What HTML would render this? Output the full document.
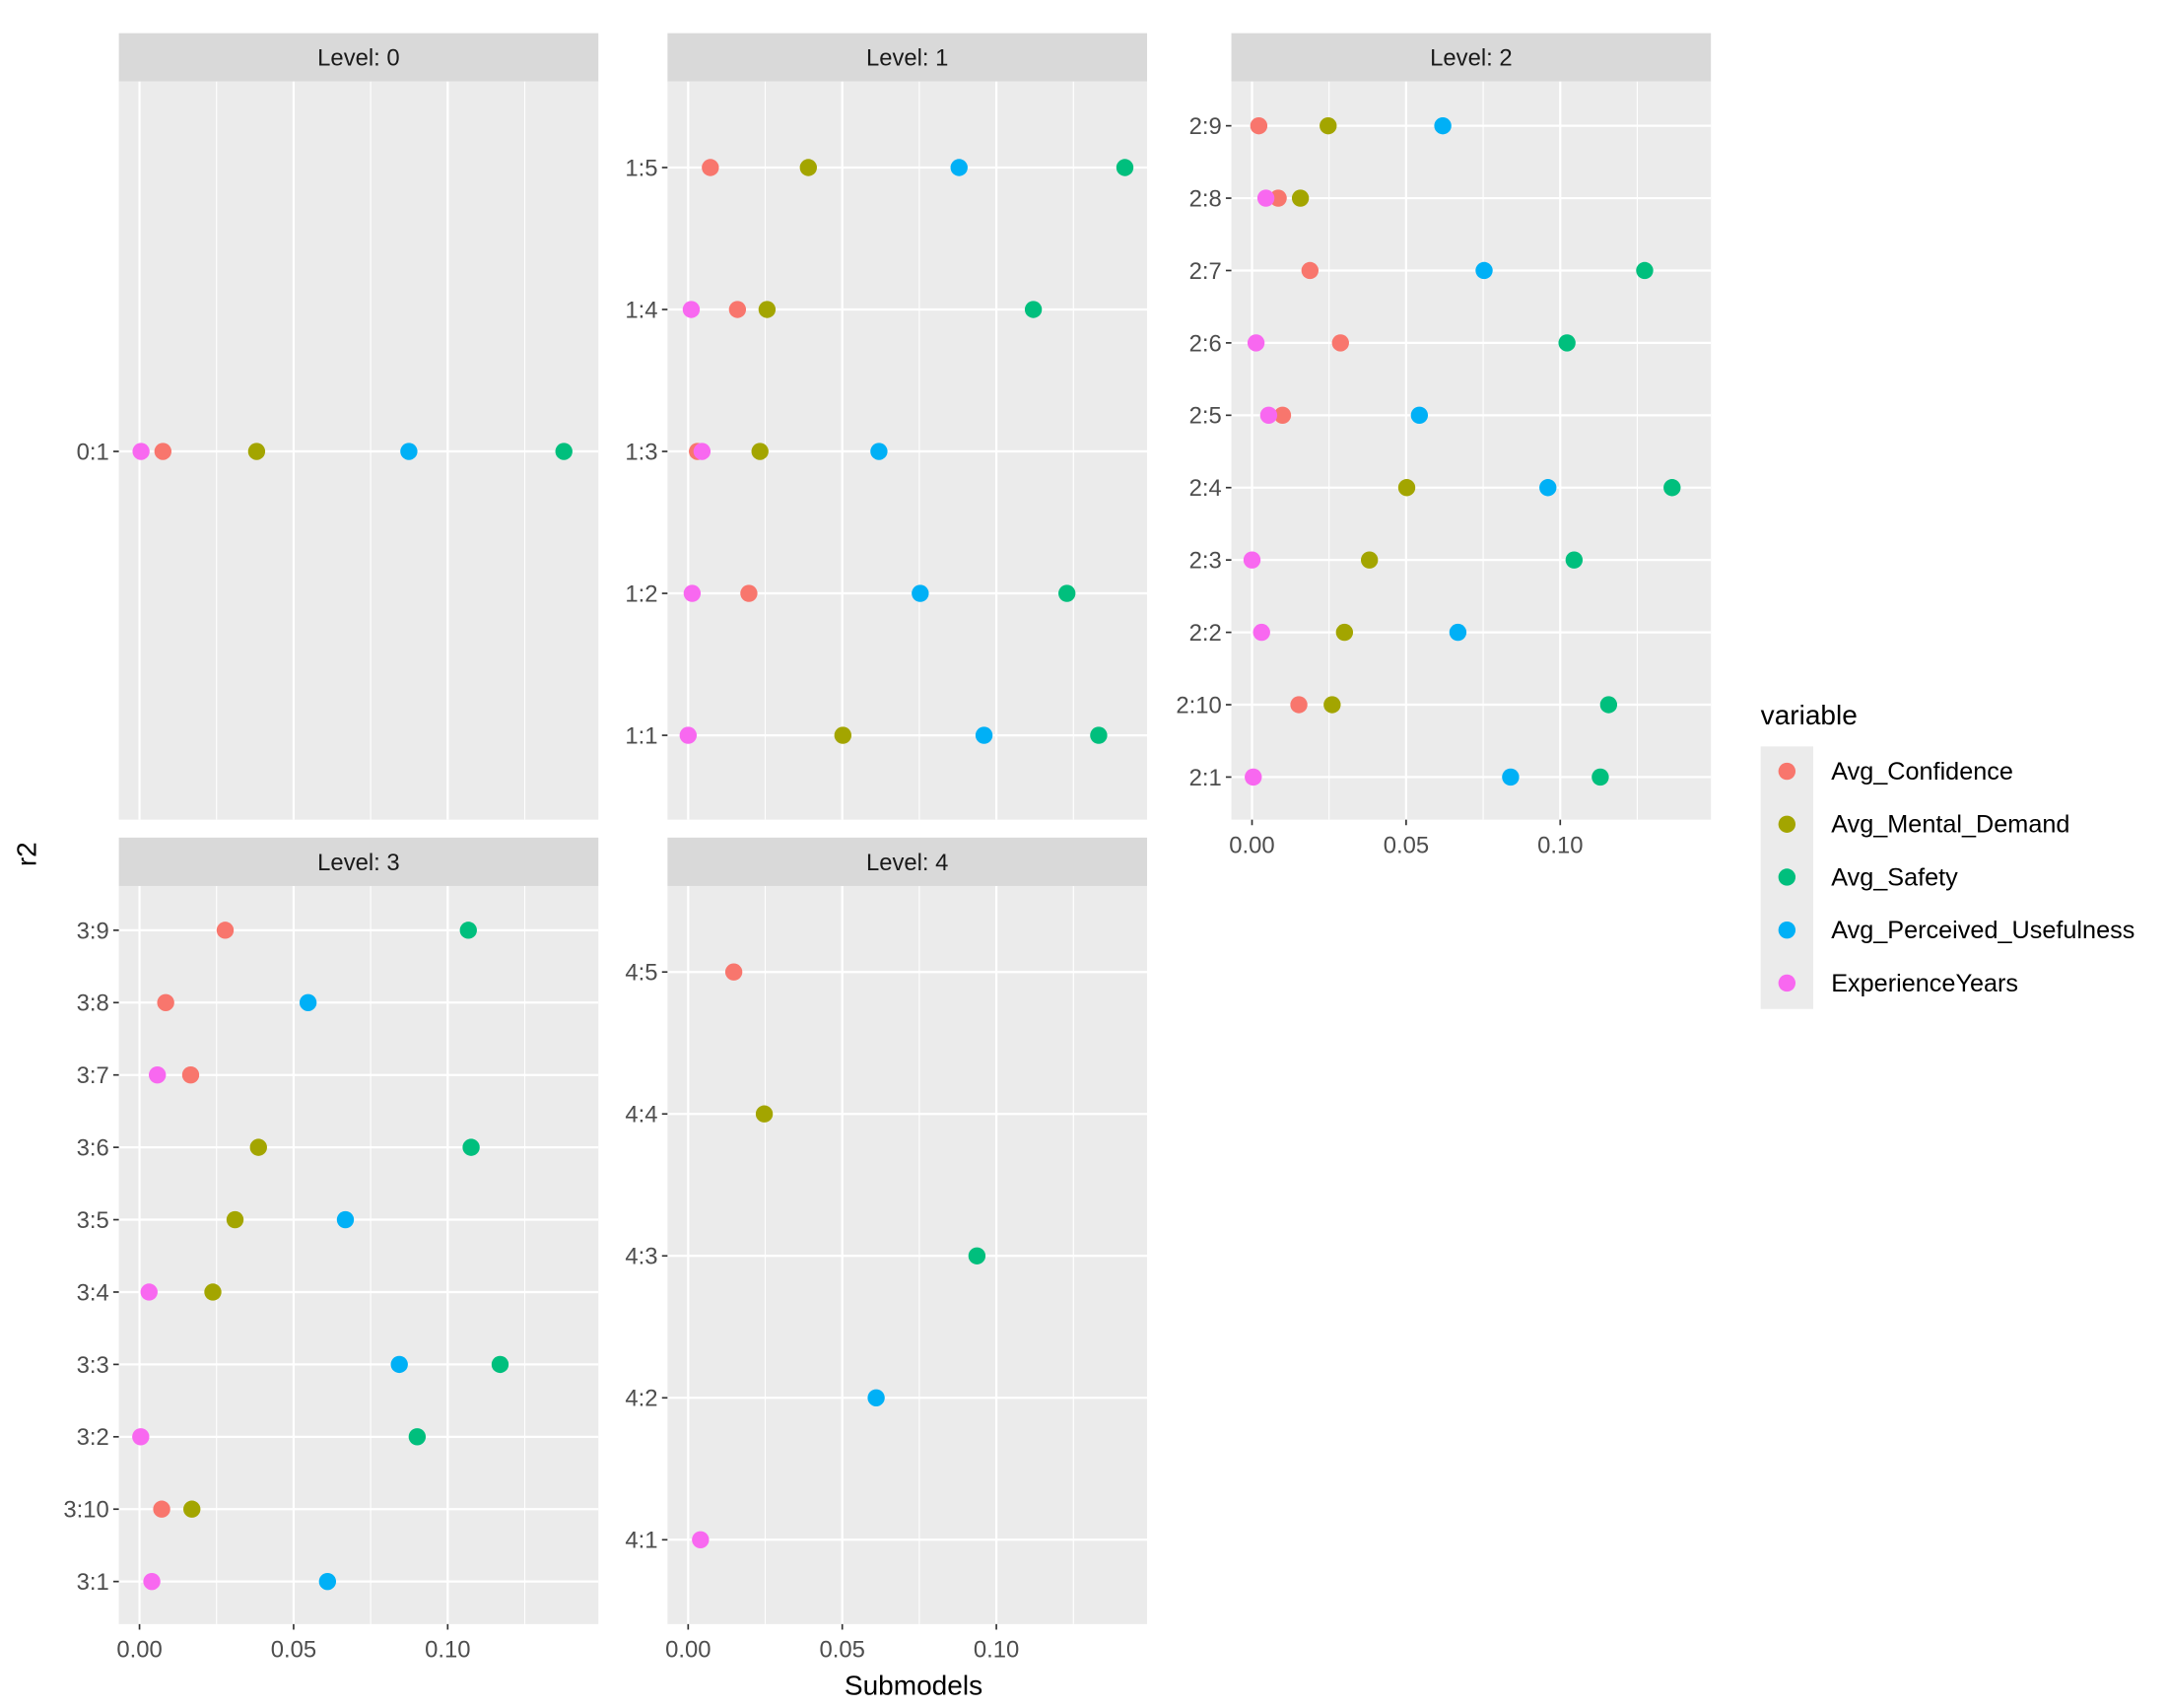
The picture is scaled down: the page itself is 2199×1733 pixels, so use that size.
<!DOCTYPE html>
<html><head><meta charset="utf-8"><style>
html,body{margin:0;padding:0;background:#fff;}
svg{display:block;font-family:"Liberation Sans",sans-serif;}
</style></head><body>
<svg id="chart" width="2199" height="1733" viewBox="0 0 1568 1235.7" preserveAspectRatio="none" xmlns="http://www.w3.org/2000/svg">
<text x="0" y="0" transform="translate(26,618) rotate(-90)" text-anchor="middle" font-size="20" fill="#000">r2</text>
<text x="661" y="1226" text-anchor="middle" font-size="20" fill="#000">Submodels</text>
<text x="1274" y="524" font-size="20" fill="#000">variable</text>
<rect x="1274" y="540" width="38" height="190" fill="#EBEBEB"/>
<g id="legend"></g>
<g id="panels"></g>
</svg>
<script>
const seriesNames = ["Avg_Confidence","Avg_Mental_Demand","Avg_Safety","Avg_Perceived_Usefulness","ExperienceYears"];
const seriesColors = ["#F8766D","#A3A500","#00BF7D","#00B0F6","#F868F0"];
const xTicks = [0, 0.05, 0.10];
const xTickLabels = ["0.00","0.05","0.10"];
const xMinor = [0.025, 0.075, 0.125];
const level0Cats = ["0:1"];
const level1Cats = ["1:1","1:2","1:3","1:4","1:5"];
const level2Cats = ["2:1","2:10","2:2","2:3","2:4","2:5","2:6","2:7","2:8","2:9"];
const level3Cats = ["3:1","3:10","3:2","3:3","3:4","3:5","3:6","3:7","3:8","3:9"];
const level4Cats = ["4:1","4:2","4:3","4:4","4:5"];
// each point: [category, seriesIndex, value]
const level0Points = [["0:1",4,0.0005],["0:1",0,0.0076],["0:1",1,0.038],["0:1",3,0.0874],["0:1",2,0.1377]];
const level1Points = [
 ["1:5",0,0.0072],["1:5",1,0.039],["1:5",3,0.0879],["1:5",2,0.1417],
 ["1:4",4,0.001],["1:4",0,0.016],["1:4",1,0.0256],["1:4",2,0.112],
 ["1:3",0,0.003],["1:3",4,0.0045],["1:3",1,0.0233],["1:3",3,0.0619],
 ["1:2",4,0.0013],["1:2",0,0.0197],["1:2",3,0.0753],["1:2",2,0.1229],
 ["1:1",4,0.0],["1:1",1,0.0502],["1:1",3,0.096],["1:1",2,0.1332]];
const level2Points = [
 ["2:9",0,0.0022],["2:9",1,0.0247],["2:9",3,0.0619],
 ["2:8",0,0.0085],["2:8",4,0.0045],["2:8",1,0.0157],
 ["2:7",0,0.0188],["2:7",3,0.0753],["2:7",2,0.1274],
 ["2:6",4,0.0013],["2:6",0,0.0287],["2:6",2,0.1022],
 ["2:5",0,0.0099],["2:5",4,0.0054],["2:5",3,0.0543],
 ["2:4",1,0.0502],["2:4",3,0.096],["2:4",2,0.1363],
 ["2:3",4,0.0],["2:3",1,0.0381],["2:3",2,0.1045],
 ["2:2",4,0.0031],["2:2",1,0.030],["2:2",3,0.0668],
 ["2:10",0,0.0152],["2:10",1,0.026],["2:10",2,0.1157],
 ["2:1",4,0.0004],["2:1",3,0.0839],["2:1",2,0.113]];
const level3Points = [
 ["3:9",0,0.0278],["3:9",2,0.1067],
 ["3:8",0,0.0085],["3:8",3,0.0547],
 ["3:7",4,0.0058],["3:7",0,0.0166],
 ["3:6",1,0.0386],["3:6",2,0.1076],
 ["3:5",1,0.031],["3:5",3,0.0668],
 ["3:4",4,0.0031],["3:4",1,0.0238],
 ["3:3",3,0.0843],["3:3",2,0.117],
 ["3:2",4,0.0004],["3:2",2,0.0901],
 ["3:10",0,0.0072],["3:10",1,0.017],
 ["3:1",4,0.004],["3:1",3,0.061]];
const level4Points = [["4:5",0,0.0148],["4:4",1,0.0247],["4:3",2,0.0937],["4:2",3,0.061],["4:1",4,0.004]];

const NS="http://www.w3.org/2000/svg";
function mk(tag,attrs,parent){const e=document.createElementNS(NS,tag);for(const k in attrs)e.setAttribute(k,attrs[k]);parent.appendChild(e);return e;}
const panelsG=document.getElementById('panels');
const panels=[
 {title:"Level: 0",left:86,top:24,cats:level0Cats,pts:level0Points,xaxis:false},
 {title:"Level: 1",left:483,top:24,cats:level1Cats,pts:level1Points,xaxis:false},
 {title:"Level: 2",left:891,top:24,cats:level2Cats,pts:level2Points,xaxis:true},
 {title:"Level: 3",left:86,top:606,cats:level3Cats,pts:level3Points,xaxis:true},
 {title:"Level: 4",left:483,top:606,cats:level4Cats,pts:level4Points,xaxis:true}];
const W=347,SH=35,PH=534,XMIN=-0.0067,XMAX=0.1489;
panels.forEach((p,pi)=>{
 const g=mk('g',{},panelsG);
 
 
 const strip=mk('rect',{x:p.left,y:p.top,width:W,height:SH,fill:'#D9D9D9'},g);
 
 
 const st=mk('text',{x:p.left+W/2,y:p.top+SH/2+6,'text-anchor':'middle','font-size':'17',fill:'#1A1A1A'},g);
 st.textContent=p.title;
 
 
 const pt=p.top+SH;
 const bg=mk('rect',{x:p.left,y:pt,width:W,height:PH,fill:'#EBEBEB'},g);
 
 
 const xs=v=>p.left+(v-XMIN)/(XMAX-XMIN)*W;
 const n=p.cats.length;
 const step=PH/(n-1+1.2);
 const ys=c=>pt+PH-step*(0.6+p.cats.indexOf(c))+0.6;
 xMinor.forEach(v=>{mk('line',{x1:xs(v),x2:xs(v),y1:pt,y2:pt+PH,stroke:'#fff','stroke-width':0.8},g);});
 xTicks.forEach(v=>{mk('line',{x1:xs(v),x2:xs(v),y1:pt,y2:pt+PH,stroke:'#fff','stroke-width':1.6},g);});
 p.cats.forEach(c=>{
  const y=ys(c);
  mk('line',{x1:p.left,x2:p.left+W,y1:y,y2:y,stroke:'#fff','stroke-width':1.6},g);
  mk('line',{x1:p.left-4,x2:p.left,y1:y,y2:y,stroke:'#333','stroke-width':1.2},g);
  const t=mk('text',{x:p.left-7,y:y+6,'text-anchor':'end','font-size':'17',fill:'#4D4D4D'},g);
  t.textContent=c;
  
  
 });
 if(p.xaxis){
  xTicks.forEach((v,i)=>{
   mk('line',{x1:xs(v),x2:xs(v),y1:pt+PH,y2:pt+PH+4,stroke:'#333','stroke-width':1.2},g);
   const t=mk('text',{x:xs(v),y:pt+PH+24,'text-anchor':'middle','font-size':'17',fill:'#4D4D4D'},g);
   t.textContent=xTickLabels[i];
   
   
  });
 }
 p.pts.forEach(d=>{
  const c=mk('circle',{cx:xs(d[2]),cy:ys(d[0]),r:6.2,fill:seriesColors[d[1]]},g);
  
  
 });
});
const lg=document.getElementById('legend');
seriesNames.forEach((s,i)=>{
 const y=558+i*38.3;
 const c=mk('circle',{cx:1293,cy:y,r:6.2,fill:seriesColors[i]},lg);
 
 
 const t=mk('text',{x:1325,y:y+6,'font-size':'18',fill:'#000'},lg);
 t.textContent=s;
 
 
});
</script>
</body></html>
